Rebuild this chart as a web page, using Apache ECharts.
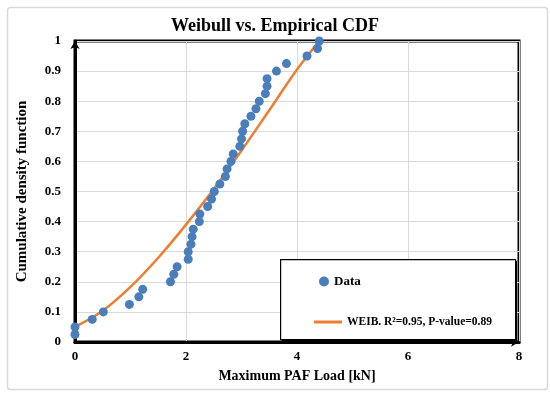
<!DOCTYPE html>
<html>
<head>
<meta charset="utf-8">
<script src="https://cdn.jsdelivr.net/npm/echarts@6/dist/echarts.min.js"></script>
<style>html,body{margin:0;padding:0;background:#fff;}#c{width:550px;height:394px;}</style>
</head>
<body>
<div id="c"></div>
<script>
// Empirical data (Maximum PAF Load [kN], cumulative probability)
var dataX = [0, 0, 0.31, 0.51, 0.98, 1.15, 1.22, 1.72, 1.78, 1.84, 2.04, 2.04, 2.09, 2.11, 2.13, 2.24, 2.25, 2.39, 2.46, 2.51, 2.61, 2.71, 2.74, 2.81, 2.85, 2.97, 3.0, 3.02, 3.06, 3.17, 3.26, 3.32, 3.43, 3.46, 3.46, 3.63, 3.81, 4.18, 4.37, 4.40];
var dataY = [0.025, 0.05, 0.075, 0.10, 0.125, 0.15, 0.175, 0.20, 0.225, 0.25, 0.275, 0.30, 0.325, 0.35, 0.375, 0.40, 0.425, 0.45, 0.475, 0.50, 0.525, 0.55, 0.575, 0.60, 0.625, 0.65, 0.675, 0.70, 0.725, 0.75, 0.775, 0.80, 0.825, 0.85, 0.875, 0.90, 0.925, 0.95, 0.975, 1.0];
// Weibull fit curve
var fitX = [0, 0.5, 1, 1.5, 2, 2.5, 3, 3.5, 4, 4.4];
var fitY = [0.05, 0.104, 0.183, 0.28, 0.39, 0.508, 0.636, 0.77, 0.905, 1.0];
var seriesNames = ['Data', 'WEIB. R\u00B2=0.95, P-value=0.89'];
var titleText = 'Weibull vs. Empirical CDF';
var xName = 'Maximum PAF Load [kN]';
var yName = 'Cumulative density function';

var FONT = '"Liberation Serif", "DejaVu Serif", serif';
var chart = echarts.init(document.getElementById('c'), null, {renderer: 'canvas'});
var scatterData = dataX.map(function (x, i) { return [x, dataY[i]]; });
var lineData = fitX.map(function (x, i) { return [x, fitY[i]]; });

chart.setOption({
  animation: false,
  backgroundColor: '#fff',
  title: {
    text: titleText, left: 'center', top: 12,
    textStyle: {fontFamily: FONT, fontWeight: 'bold', fontSize: 18, color: '#000'}
  },
  grid: {left: 75, right: 31, top: 41, bottom: 52, show: true, borderColor: '#000', borderWidth: 3, backgroundColor: 'transparent'},
  xAxis: {
    type: 'value', min: 0, max: 8, interval: 2,
    name: xName, nameLocation: 'middle', nameGap: 27,
    nameTextStyle: {fontFamily: FONT, fontWeight: 'bold', fontSize: 14, color: '#000'},
    axisLine: {show: true, lineStyle: {color: '#000', width: 3}, symbol: ['none', 'arrow'], symbolSize: [7, 8]},
    axisTick: {show: false},
    axisLabel: {fontFamily: FONT, fontWeight: 'bold', fontSize: 13, color: '#000', margin: 8},
    splitLine: {show: true, lineStyle: {color: '#d9d9d9', width: 1}}
  },
  yAxis: {
    type: 'value', min: 0, max: 1, interval: 0.1,
    name: yName, nameLocation: 'middle', nameGap: 45,
    nameTextStyle: {fontFamily: FONT, fontWeight: 'bold', fontSize: 15, color: '#000'},
    axisLine: {show: true, lineStyle: {color: '#000', width: 3}, symbol: ['none', 'arrow'], symbolSize: [7, 8]},
    axisTick: {show: false},
    axisLabel: {fontFamily: FONT, fontWeight: 'bold', fontSize: 13, color: '#000', margin: 14},
    splitLine: {show: true, lineStyle: {color: '#d9d9d9', width: 1}}
  },
  legend: [
    {
      data: [seriesNames[0]], left: 314, top: 270, orient: 'vertical',
      icon: 'circle', itemWidth: 10, itemHeight: 10, itemGap: 6, z: 20,
      textStyle: {fontFamily: FONT, fontWeight: 'bold', fontSize: 13, color: '#000'}
    },
    {
      data: [seriesNames[1]], left: 309, top: 311, orient: 'vertical',
      icon: 'rect', itemWidth: 28, itemHeight: 3, itemGap: 2, z: 20,
      textStyle: {fontFamily: FONT, fontWeight: 'bold', fontSize: 11.5, color: '#000'}
    }
  ],
  graphic: [
    {type: 'rect', left: 5, top: 5, z: 0, silent: true,
     shape: {width: 540, height: 382, r: 3},
     style: {fill: 'none', stroke: '#d9d9d9', lineWidth: 1.5}},
    {type: 'rect', left: 282, top: 261, z: 14, silent: true,
     shape: {width: 235, height: 80},
     style: {fill: '#000', stroke: 'none'}},
    {type: 'rect', left: 280, top: 259, z: 15, silent: true,
     shape: {width: 235, height: 80},
     style: {fill: '#fff', stroke: '#000', lineWidth: 1.2}}
  ],
  series: [
    {
      name: seriesNames[0], type: 'scatter', data: scatterData,
      symbol: 'circle', symbolSize: 9, z: 3,
      itemStyle: {color: '#4A7EBB', opacity: 1}
    },
    {
      name: seriesNames[1], type: 'line', data: lineData, smooth: 0.3,
      showSymbol: false, z: 2,
      lineStyle: {color: '#ED7D31', width: 2.5},
      itemStyle: {color: '#ED7D31'}
    }
  ]
});
</script>
</body>
</html>
